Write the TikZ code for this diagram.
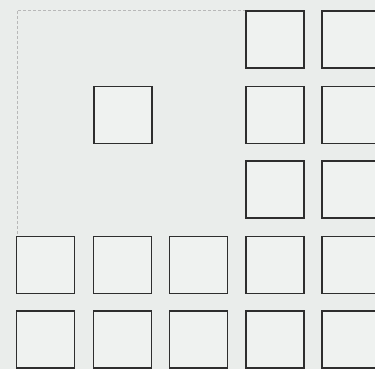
\documentclass[tikz,border=0pt]{standalone}
\begin{document}
\begin{tikzpicture}[x=1pt,y=-1pt,
  box/.style={draw=black!82, line width=1.5pt, fill=paper!75!white, minimum width=58pt, minimum height=57pt, inner sep=0pt, outer sep=0pt},
  guide/.style={draw=black!28, line width=0.6pt, dash pattern=on 3pt off 2pt}]
\definecolor{paper}{RGB}{234,237,235}
\useasboundingbox (0,0) rectangle (375,369);
\clip (0,0) rectangle (375,369);
\fill[paper] (0,0) rectangle (375,369);
% guides
\coordinate (g0) at (17,10);
\coordinate (g1) at (246,10);
\coordinate (g2) at (17,236);
\draw[guide] (g1) -- (g0) -- (g2);
% row 1
\node[box] (r1c4) at (275,39.5) {};
\node[box] (r1c5) at (351,39.5) {};
% row 2
\node[box] (r2c2) at (123,115) {};
\node[box] (r2c4) at (275,115) {};
\node[box] (r2c5) at (351,115) {};
% row 3
\node[box] (r3c4) at (275,189.5) {};
\node[box] (r3c5) at (351,189.5) {};
% row 4
\node[box] (r4c1) at (45.5,265) {};
\node[box] (r4c2) at (122.5,265) {};
\node[box] (r4c3) at (198.5,265) {};
\node[box] (r4c4) at (275,265) {};
\node[box] (r4c5) at (351,265) {};
% row 5
\node[box] (r5c1) at (45.5,339.5) {};
\node[box] (r5c2) at (122.5,339.5) {};
\node[box] (r5c3) at (198.5,339.5) {};
\node[box] (r5c4) at (275,339.5) {};
\node[box] (r5c5) at (351,339.5) {};
\end{tikzpicture}
\end{document}
